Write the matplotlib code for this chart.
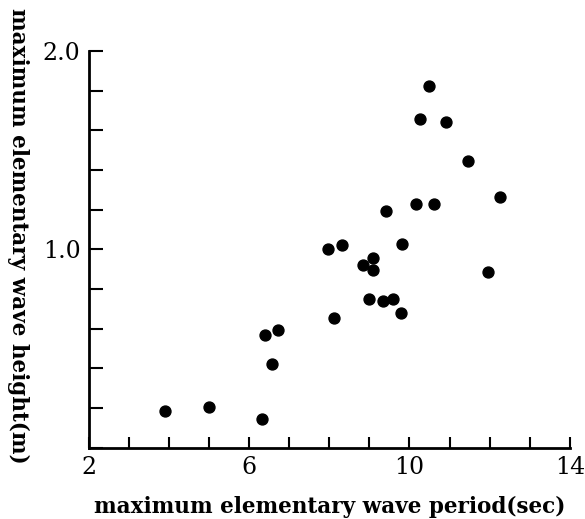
import matplotlib.pyplot as plt
from matplotlib.ticker import MultipleLocator

# wave period (sec) and wave height (m)
period = [3.89, 5.00, 6.33, 6.58, 6.40, 6.72, 7.96, 8.32, 8.12, 8.84,
          8.99, 9.09, 9.09, 9.35, 9.41, 9.60, 9.78, 9.82, 10.15, 10.26,
          10.49, 10.61, 10.92, 11.47, 11.96, 12.25]
height = [0.186, 0.206, 0.146, 0.422, 0.571, 0.595, 1.001, 1.024, 0.652, 0.920,
          0.749, 0.958, 0.894, 0.740, 1.192, 0.749, 0.680, 1.029, 1.231, 1.657,
          1.821, 1.228, 1.643, 1.446, 0.888, 1.263]

x_ticks = [2, 6, 10, 14]
y_ticks = [1.0, 2.0]

plt.rcParams['font.family'] = ['DejaVu Serif']

fig = plt.figure(figsize=(5.85, 5.19), dpi=100)
ax = fig.add_axes([0.152, 0.137, 0.822, 0.765])

ax.scatter(period, height, s=62, color='black', zorder=3)

ax.set_xlim(2, 14)
ax.set_ylim(0, 2.0)
ax.set_xticks(x_ticks)
ax.set_xticklabels([str(t) for t in x_ticks])
ax.set_yticks(y_ticks)
ax.set_yticklabels(['%.1f' % t for t in y_ticks])
ax.xaxis.set_minor_locator(MultipleLocator(1))
ax.yaxis.set_minor_locator(MultipleLocator(0.2))

for side in ['top', 'right']:
    ax.spines[side].set_visible(False)
for side in ['left', 'bottom']:
    ax.spines[side].set_linewidth(2)
    ax.spines[side].set_clip_on(False)

ax.tick_params(which='both', direction='in', width=1.5, labelsize=17, pad=6)
ax.tick_params(axis='x', which='both', length=8)
ax.tick_params(axis='y', which='both', length=10)
for lbl in ax.get_xticklabels() + ax.get_yticklabels():
    lbl.set_fontweight('medium')

ax.set_xlabel('maximum elementary wave period(sec)', fontsize=15.5,
              fontweight='bold', labelpad=12)
fig.text(0.03, 0.545, 'maximum elementary wave height(m)', rotation=270,
         fontsize=15.5, fontweight='bold', ha='center', va='center')

fig.savefig('out.png', dpi=100)
